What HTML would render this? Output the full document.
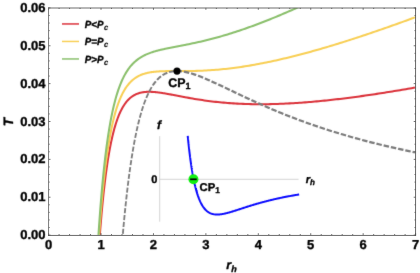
<!DOCTYPE html>
<html><head><meta charset="utf-8"><title>T vs r_h</title>
<style>
html,body{margin:0;padding:0;background:#fff;}
body{width:420px;height:273px;overflow:hidden;}
svg{display:block;opacity:0.999;will-change:transform;font-family:"Liberation Sans",sans-serif;font-weight:bold;fill:#000;}
text{text-rendering:geometricPrecision;stroke:#000;stroke-width:0.35px;stroke-linejoin:round;}
.tl{font-size:13.0px;}
.it{font-style:italic;}
</style></head><body>
<svg width="420" height="273" viewBox="0 0 420 273">
<defs><filter id="soft" x="0" y="0" width="420" height="273" filterUnits="userSpaceOnUse" color-interpolation-filters="sRGB"><feConvolveMatrix order="3" kernelMatrix="0.015 0.1 0.015 0.1 1 0.1 0.015 0.1 0.015" divisor="1.4600" edgeMode="duplicate" preserveAlpha="false"/></filter><clipPath id="pc"><rect x="48.6" y="7.9" width="367.0" height="227.2"/></clipPath><clipPath id="zA"><rect x="100" y="85" width="76.8" height="160"/></clipPath><clipPath id="zB"><rect x="100" y="58" width="76.8" height="27"/></clipPath><clipPath id="zC"><path d="M100,0H420V273H176.8V58H100Z"/></clipPath></defs>
<g filter="url(#soft)">
<rect x="0" y="0" width="420" height="273" fill="#fff"/>
<g clip-path="url(#pc)" fill="none" stroke-linejoin="round">
<path d="M95.79,300.08 L96.43,287.98 L97.07,276.62 L97.71,265.94 L98.35,255.91 L98.99,246.47 L99.63,237.60 L100.27,229.24 L100.92,221.37 L101.56,213.96 L102.20,206.98 L102.84,200.39 L103.48,194.18 L104.12,188.33 L104.76,182.80 L105.40,177.58 L106.05,172.66 L106.69,168.00 L107.33,163.61 L107.97,159.46 L108.61,155.54 L109.25,151.83 L109.89,148.33 L110.53,145.01 L111.17,141.88 L111.82,138.92 L112.46,136.12 L113.10,133.47 L113.74,130.96 L114.38,128.59 L115.02,126.35 L115.66,124.23 L116.30,122.22 L116.95,120.33 L117.59,118.53 L118.23,116.84 L118.87,115.24 L119.51,113.72 L120.15,112.29 L120.79,110.93 L121.43,109.65 L122.08,108.45 L122.72,107.30 L123.36,106.23 L124.00,105.21 L124.64,104.25 L125.28,103.35 L125.92,102.50 L126.56,101.69 L127.21,100.94 L127.85,100.23 L128.49,99.56 L129.13,98.93 L129.77,98.34 L130.41,97.79 L131.05,97.27 L131.69,96.78 L132.33,96.33 L132.98,95.91 L133.62,95.51 L134.26,95.14 L134.90,94.80 L135.54,94.48 L136.18,94.19 L136.82,93.91 L137.46,93.66 L138.11,93.43 L138.75,93.22 L139.39,93.03 L140.03,92.85 L140.67,92.69 L141.31,92.55 L141.95,92.42 L142.59,92.30 L143.24,92.20 L143.88,92.11 L144.52,92.04 L145.16,91.97 L145.80,91.92 L146.44,91.88 L147.08,91.84 L147.72,91.82 L148.37,91.81 L149.01,91.80 L149.65,91.80 L150.29,91.81 L150.93,91.83 L151.57,91.86 L152.21,91.89 L152.85,91.93 L153.49,91.97 L154.14,92.02 L154.78,92.07 L155.42,92.13 L156.06,92.20 L156.70,92.27 L157.34,92.34 L157.98,92.42 L158.62,92.50 L159.27,92.58 L159.91,92.67 L160.55,92.76 L161.19,92.85 L161.83,92.95 L162.47,93.05 L163.11,93.15 L163.75,93.25 L164.40,93.36 L165.04,93.47 L165.68,93.57 L166.32,93.69 L166.96,93.80 L167.60,93.91 L168.24,94.03 L168.88,94.14 L169.53,94.26 L170.17,94.38 L170.81,94.50 L171.45,94.62 L172.09,94.74 L172.73,94.86 L173.37,94.98 L174.01,95.10 L174.65,95.23 L175.30,95.35 L175.94,95.47 L176.58,95.59 L177.22,95.72 L177.86,95.84 L178.50,95.96 L179.14,96.08 L179.78,96.21 L180.43,96.33 L181.07,96.45 L181.71,96.57 L182.35,96.69 L182.99,96.81 L183.63,96.93 L184.27,97.05 L184.91,97.17 L186.85,97.53 L188.79,97.88 L190.73,98.23 L192.67,98.56 L194.61,98.89 L196.55,99.21 L198.48,99.52 L200.42,99.82 L202.36,100.11 L204.30,100.39 L206.24,100.66 L208.18,100.93 L210.12,101.18 L212.05,101.42 L213.99,101.65 L215.93,101.87 L217.87,102.08 L219.81,102.28 L221.75,102.46 L223.68,102.64 L225.62,102.81 L227.56,102.97 L229.50,103.12 L231.44,103.25 L233.38,103.38 L235.32,103.50 L237.25,103.61 L239.19,103.71 L241.13,103.80 L243.07,103.88 L245.01,103.95 L246.95,104.01 L248.89,104.07 L250.82,104.11 L252.76,104.15 L254.70,104.18 L256.64,104.20 L258.58,104.21 L260.52,104.21 L262.46,104.21 L264.39,104.20 L266.33,104.18 L268.27,104.15 L270.21,104.12 L272.15,104.07 L274.09,104.02 L276.03,103.97 L277.96,103.91 L279.90,103.84 L281.84,103.76 L283.78,103.68 L285.72,103.59 L287.66,103.49 L289.60,103.39 L291.53,103.28 L293.47,103.17 L295.41,103.05 L297.35,102.93 L299.29,102.79 L301.23,102.66 L303.16,102.52 L305.10,102.37 L307.04,102.22 L308.98,102.06 L310.92,101.90 L312.86,101.73 L314.80,101.56 L316.73,101.38 L318.67,101.20 L320.61,101.01 L322.55,100.82 L324.49,100.62 L326.43,100.42 L328.37,100.22 L330.30,100.01 L332.24,99.79 L334.18,99.58 L336.12,99.35 L338.06,99.13 L340.00,98.90 L341.94,98.67 L343.87,98.43 L345.81,98.19 L347.75,97.94 L349.69,97.69 L351.63,97.44 L353.57,97.19 L355.51,96.93 L357.44,96.67 L359.38,96.40 L361.32,96.13 L363.26,95.86 L365.20,95.59 L367.14,95.31 L369.08,95.03 L371.01,94.74 L372.95,94.45 L374.89,94.16 L376.83,93.87 L378.77,93.57 L380.71,93.28 L382.64,92.97 L384.58,92.67 L386.52,92.36 L388.46,92.05 L390.40,91.74 L392.34,91.43 L394.28,91.11 L396.21,90.79 L398.15,90.47 L400.09,90.14 L402.03,89.82 L403.97,89.49 L405.91,89.16 L407.85,88.82 L409.78,88.49 L411.72,88.15 L413.66,87.81 L415.60,87.46" stroke="#db333b" stroke-width="2.05"/>
<path d="M95.79,291.04 L96.43,278.82 L97.07,267.33 L97.71,256.53 L98.35,246.38 L98.99,236.82 L99.63,227.82 L100.27,219.34 L100.92,211.35 L101.56,203.82 L102.20,196.71 L102.84,190.00 L103.48,183.67 L104.12,177.69 L104.76,172.04 L105.40,166.70 L106.05,161.65 L106.69,156.88 L107.33,152.36 L107.97,148.09 L108.61,144.04 L109.25,140.21 L109.89,136.58 L110.53,133.15 L111.17,129.89 L111.82,126.81 L112.46,123.88 L113.10,121.11 L113.74,118.48 L114.38,115.99 L115.02,113.63 L115.66,111.38 L116.30,109.25 L116.95,107.23 L117.59,105.32 L118.23,103.50 L118.87,101.77 L119.51,100.13 L120.15,98.58 L120.79,97.10 L121.43,95.70 L122.08,94.37 L122.72,93.10 L123.36,91.90 L124.00,90.77 L124.64,89.68 L125.28,88.66 L125.92,87.68 L126.56,86.76 L127.21,85.88 L127.85,85.04 L128.49,84.25 L129.13,83.50 L129.77,82.79 L130.41,82.11 L131.05,81.47 L131.69,80.86 L132.33,80.29 L132.98,79.74 L133.62,79.22 L134.26,78.73 L134.90,78.27 L135.54,77.83 L136.18,77.41 L136.82,77.01 L137.46,76.64 L138.11,76.28 L138.75,75.95 L139.39,75.63 L140.03,75.33 L140.67,75.05 L141.31,74.78 L141.95,74.53 L142.59,74.29 L143.24,74.07 L143.88,73.86 L144.52,73.66 L145.16,73.47 L145.80,73.30 L146.44,73.13 L147.08,72.98 L147.72,72.83 L148.37,72.69 L149.01,72.57 L149.65,72.44 L150.29,72.33 L150.93,72.23 L151.57,72.13 L152.21,72.04 L152.85,71.95 L153.49,71.87 L154.14,71.80 L154.78,71.73 L155.42,71.67 L156.06,71.61 L156.70,71.56 L157.34,71.51 L157.98,71.46 L158.62,71.42 L159.27,71.38 L159.91,71.34 L160.55,71.31 L161.19,71.28 L161.83,71.26 L162.47,71.23 L163.11,71.21 L163.75,71.19 L164.40,71.17 L165.04,71.16 L165.68,71.14 L166.32,71.13 L166.96,71.12 L167.60,71.11 L168.24,71.11 L168.88,71.10 L169.53,71.09 L170.17,71.09 L170.81,71.09 L171.45,71.08 L172.09,71.08 L172.73,71.08 L173.37,71.08 L174.01,71.08 L174.65,71.08 L175.30,71.08 L175.94,71.07 L176.58,71.07 L177.22,71.07 L177.86,71.07 L178.50,71.07 L179.14,71.07 L179.78,71.07 L180.43,71.07 L181.07,71.07 L181.71,71.07 L182.35,71.07 L182.99,71.07 L183.63,71.06 L184.27,71.06 L184.91,71.06 L186.85,71.04 L188.79,71.02 L190.73,71.00 L192.67,70.96 L194.61,70.92 L196.55,70.86 L198.48,70.80 L200.42,70.73 L202.36,70.65 L204.30,70.56 L206.24,70.46 L208.18,70.35 L210.12,70.23 L212.05,70.10 L213.99,69.96 L215.93,69.81 L217.87,69.65 L219.81,69.48 L221.75,69.29 L223.68,69.10 L225.62,68.90 L227.56,68.68 L229.50,68.46 L231.44,68.23 L233.38,67.98 L235.32,67.73 L237.25,67.47 L239.19,67.19 L241.13,66.91 L243.07,66.62 L245.01,66.32 L246.95,66.01 L248.89,65.70 L250.82,65.37 L252.76,65.04 L254.70,64.69 L256.64,64.34 L258.58,63.98 L260.52,63.61 L262.46,63.24 L264.39,62.85 L266.33,62.46 L268.27,62.06 L270.21,61.66 L272.15,61.25 L274.09,60.83 L276.03,60.40 L277.96,59.96 L279.90,59.52 L281.84,59.08 L283.78,58.62 L285.72,58.16 L287.66,57.69 L289.60,57.22 L291.53,56.74 L293.47,56.26 L295.41,55.77 L297.35,55.27 L299.29,54.77 L301.23,54.26 L303.16,53.75 L305.10,53.23 L307.04,52.70 L308.98,52.17 L310.92,51.64 L312.86,51.10 L314.80,50.56 L316.73,50.01 L318.67,49.45 L320.61,48.90 L322.55,48.33 L324.49,47.76 L326.43,47.19 L328.37,46.62 L330.30,46.04 L332.24,45.45 L334.18,44.86 L336.12,44.27 L338.06,43.67 L340.00,43.07 L341.94,42.47 L343.87,41.86 L345.81,41.25 L347.75,40.63 L349.69,40.01 L351.63,39.39 L353.57,38.76 L355.51,38.13 L357.44,37.50 L359.38,36.86 L361.32,36.22 L363.26,35.58 L365.20,34.93 L367.14,34.28 L369.08,33.63 L371.01,32.97 L372.95,32.31 L374.89,31.65 L376.83,30.99 L378.77,30.32 L380.71,29.65 L382.64,28.98 L384.58,28.30 L386.52,27.62 L388.46,26.94 L390.40,26.26 L392.34,25.57 L394.28,24.88 L396.21,24.19 L398.15,23.50 L400.09,22.80 L402.03,22.10 L403.97,21.40 L405.91,20.70 L407.85,20.00 L409.78,19.29 L411.72,18.58 L413.66,17.87 L415.60,17.15" stroke="#f8cf55" stroke-width="2.05"/>
<path d="M95.79,282.00 L96.43,269.65 L97.07,258.05 L97.71,247.13 L98.35,236.85 L98.99,227.17 L99.63,218.04 L100.27,209.44 L100.92,201.33 L101.56,193.67 L102.20,186.44 L102.84,179.61 L103.48,173.15 L104.12,167.05 L104.76,161.28 L105.40,155.82 L106.05,150.64 L106.69,145.75 L107.33,141.11 L107.97,136.71 L108.61,132.54 L109.25,128.59 L109.89,124.84 L110.53,121.28 L111.17,117.90 L111.82,114.70 L112.46,111.65 L113.10,108.75 L113.74,106.00 L114.38,103.39 L115.02,100.90 L115.66,98.53 L116.30,96.28 L116.95,94.14 L117.59,92.10 L118.23,90.16 L118.87,88.31 L119.51,86.55 L120.15,84.87 L120.79,83.27 L121.43,81.75 L122.08,80.29 L122.72,78.91 L123.36,77.58 L124.00,76.32 L124.64,75.12 L125.28,73.97 L125.92,72.87 L126.56,71.82 L127.21,70.82 L127.85,69.86 L128.49,68.95 L129.13,68.07 L129.77,67.24 L130.41,66.44 L131.05,65.68 L131.69,64.95 L132.33,64.25 L132.98,63.58 L133.62,62.93 L134.26,62.32 L134.90,61.73 L135.54,61.17 L136.18,60.63 L136.82,60.11 L137.46,59.61 L138.11,59.14 L138.75,58.68 L139.39,58.24 L140.03,57.82 L140.67,57.41 L141.31,57.02 L141.95,56.65 L142.59,56.29 L143.24,55.94 L143.88,55.61 L144.52,55.28 L145.16,54.97 L145.80,54.68 L146.44,54.39 L147.08,54.11 L147.72,53.84 L148.37,53.58 L149.01,53.33 L149.65,53.09 L150.29,52.85 L150.93,52.62 L151.57,52.40 L152.21,52.19 L152.85,51.98 L153.49,51.78 L154.14,51.58 L154.78,51.39 L155.42,51.20 L156.06,51.02 L156.70,50.84 L157.34,50.67 L157.98,50.50 L158.62,50.34 L159.27,50.18 L159.91,50.02 L160.55,49.86 L161.19,49.71 L161.83,49.56 L162.47,49.42 L163.11,49.27 L163.75,49.13 L164.40,48.99 L165.04,48.85 L165.68,48.71 L166.32,48.58 L166.96,48.45 L167.60,48.31 L168.24,48.18 L168.88,48.05 L169.53,47.93 L170.17,47.80 L170.81,47.67 L171.45,47.55 L172.09,47.42 L172.73,47.30 L173.37,47.17 L174.01,47.05 L174.65,46.93 L175.30,46.80 L175.94,46.68 L176.58,46.56 L177.22,46.43 L177.86,46.31 L178.50,46.19 L179.14,46.06 L179.78,45.94 L180.43,45.82 L181.07,45.69 L181.71,45.57 L182.35,45.45 L182.99,45.32 L183.63,45.20 L184.27,45.07 L184.91,44.94 L186.85,44.56 L188.79,44.16 L190.73,43.77 L192.67,43.36 L194.61,42.94 L196.55,42.52 L198.48,42.09 L200.42,41.65 L202.36,41.20 L204.30,40.73 L206.24,40.26 L208.18,39.78 L210.12,39.29 L212.05,38.79 L213.99,38.27 L215.93,37.75 L217.87,37.22 L219.81,36.67 L221.75,36.12 L223.68,35.56 L225.62,34.98 L227.56,34.40 L229.50,33.80 L231.44,33.20 L233.38,32.58 L235.32,31.96 L237.25,31.32 L239.19,30.68 L241.13,30.03 L243.07,29.37 L245.01,28.69 L246.95,28.01 L248.89,27.33 L250.82,26.63 L252.76,25.92 L254.70,25.21 L256.64,24.48 L258.58,23.75 L260.52,23.01 L262.46,22.27 L264.39,21.51 L266.33,20.75 L268.27,19.98 L270.21,19.20 L272.15,18.42 L274.09,17.63 L276.03,16.83 L277.96,16.02 L279.90,15.21 L281.84,14.39 L283.78,13.56 L285.72,12.73 L287.66,11.89 L289.60,11.05 L291.53,10.20 L293.47,9.34 L295.41,8.48 L297.35,7.61 L299.29,6.74 L301.23,5.86 L303.16,4.98 L305.10,4.09 L307.04,3.19 L308.98,2.29 L310.92,1.38 L312.86,0.47 L314.80,-0.44 L316.73,-1.36 L318.67,-2.29 L320.61,-3.22 L322.55,-4.15 L324.49,-5.09 L326.43,-6.03 L328.37,-6.98 L330.30,-7.93 L332.24,-8.89 L334.18,-9.85 L336.12,-10.81 L338.06,-11.78 L340.00,-12.76 L341.94,-13.73 L343.87,-14.71 L345.81,-15.70 L347.75,-16.68 L349.69,-17.67 L351.63,-18.67 L353.57,-19.67 L355.51,-20.67 L357.44,-21.67 L359.38,-22.68 L361.32,-23.69 L363.26,-24.71 L365.20,-25.72 L367.14,-26.75 L369.08,-27.77 L371.01,-28.80 L372.95,-29.83 L374.89,-30.86 L376.83,-31.90 L378.77,-32.93 L380.71,-33.98 L382.64,-35.02 L384.58,-36.07 L386.52,-37.12 L388.46,-38.17 L390.40,-39.22 L392.34,-40.28 L394.28,-41.34 L396.21,-42.40 L398.15,-43.47 L400.09,-44.54 L402.03,-45.61 L403.97,-46.68 L405.91,-47.75 L407.85,-48.83 L409.78,-49.91 L411.72,-50.99 L413.66,-52.07 L415.60,-53.16" stroke="#8bc06d" stroke-width="2.05"/>
<g stroke="#7c7c7c" stroke-dasharray="5.1 1.8" stroke-dashoffset="-1.25">
<g clip-path="url(#zA)"><path d="M113.91,235.10 L114.56,227.26 L115.20,219.77 L115.85,212.63 L116.50,205.81 L117.15,199.31 L117.80,193.09 L118.45,187.16 L119.09,181.50 L119.74,176.09 L120.39,170.92 L121.04,165.99 L121.69,161.27 L122.33,156.77 L122.98,152.47 L123.63,148.36 L124.28,144.43 L124.93,140.68 L125.58,137.10 L126.22,133.68 L126.87,130.41 L127.52,127.28 L128.17,124.30 L128.82,121.45 L129.47,118.73 L130.11,116.13 L130.76,113.65 L131.41,111.28 L132.06,109.02 L132.71,106.87 L133.35,104.81 L134.00,102.85 L134.65,100.97 L135.30,99.19 L135.95,97.49 L136.60,95.87 L137.24,94.32 L137.89,92.85 L138.54,91.46 L139.19,90.12 L139.84,88.86 L140.49,87.66 L141.13,86.51 L141.78,85.43 L142.43,84.40 L143.08,83.42 L143.73,82.50 L144.37,81.63 L145.02,80.80 L145.67,80.02 L146.32,79.28 L146.97,78.58 L147.62,77.93 L148.26,77.31 L148.91,76.73 L149.56,76.19 L150.21,75.68 L150.86,75.20 L151.51,74.76 L152.15,74.35 L152.80,73.97 L153.45,73.61 L154.10,73.29 L154.75,72.99 L155.39,72.71 L156.04,72.46 L156.69,72.24 L157.34,72.03 L157.99,71.85 L158.64,71.69 L159.28,71.55 L159.93,71.43 L160.58,71.33 L161.23,71.25 L161.88,71.18 L162.53,71.13 L163.17,71.10 L163.82,71.08 L164.47,71.08 L165.12,71.09 L165.77,71.11 L166.41,71.15 L167.06,71.20 L167.71,71.27 L168.36,71.34 L169.01,71.43 L169.66,71.53 L170.30,71.64 L170.95,71.75 L171.60,71.88 L174.70,72.62 L177.81,73.54 L180.91,74.61 L184.01,75.80 L187.11,77.10 L190.22,78.47 L193.32,79.90 L196.42,81.39 L199.52,82.92 L202.63,84.47 L205.73,86.05 L208.83,87.64 L211.93,89.24 L215.04,90.84 L218.14,92.44 L221.24,94.03 L224.34,95.62 L227.45,97.19 L230.55,98.75 L233.65,100.30 L236.75,101.83 L239.86,103.33 L242.96,104.83 L246.06,106.30 L249.16,107.75 L252.27,109.17 L255.37,110.58 L258.47,111.97 L261.57,113.33 L264.68,114.67 L267.78,115.99 L270.88,117.29 L273.98,118.57 L277.09,119.82 L280.19,121.06 L283.29,122.27 L286.40,123.46 L289.50,124.63 L292.60,125.78 L295.70,126.91 L298.81,128.03 L301.91,129.12 L305.01,130.19 L308.11,131.24 L311.22,132.28 L314.32,133.30 L317.42,134.30 L320.52,135.28 L323.63,136.25 L326.73,137.20 L329.83,138.13 L332.93,139.05 L336.04,139.95 L339.14,140.84 L342.24,141.71 L345.34,142.57 L348.45,143.41 L351.55,144.24 L354.65,145.06 L357.75,145.86 L360.86,146.65 L363.96,147.42 L367.06,148.19 L370.16,148.94 L373.27,149.68 L376.37,150.40 L379.47,151.12 L382.57,151.83 L385.68,152.52" transform="scale(1.07759,1)" stroke-width="1.7"/></g>
<g clip-path="url(#zB)"><path d="M113.91,235.10 L114.56,227.26 L115.20,219.77 L115.85,212.63 L116.50,205.81 L117.15,199.31 L117.80,193.09 L118.45,187.16 L119.09,181.50 L119.74,176.09 L120.39,170.92 L121.04,165.99 L121.69,161.27 L122.33,156.77 L122.98,152.47 L123.63,148.36 L124.28,144.43 L124.93,140.68 L125.58,137.10 L126.22,133.68 L126.87,130.41 L127.52,127.28 L128.17,124.30 L128.82,121.45 L129.47,118.73 L130.11,116.13 L130.76,113.65 L131.41,111.28 L132.06,109.02 L132.71,106.87 L133.35,104.81 L134.00,102.85 L134.65,100.97 L135.30,99.19 L135.95,97.49 L136.60,95.87 L137.24,94.32 L137.89,92.85 L138.54,91.46 L139.19,90.12 L139.84,88.86 L140.49,87.66 L141.13,86.51 L141.78,85.43 L142.43,84.40 L143.08,83.42 L143.73,82.50 L144.37,81.63 L145.02,80.80 L145.67,80.02 L146.32,79.28 L146.97,78.58 L147.62,77.93 L148.26,77.31 L148.91,76.73 L149.56,76.19 L150.21,75.68 L150.86,75.20 L151.51,74.76 L152.15,74.35 L152.80,73.97 L153.45,73.61 L154.10,73.29 L154.75,72.99 L155.39,72.71 L156.04,72.46 L156.69,72.24 L157.34,72.03 L157.99,71.85 L158.64,71.69 L159.28,71.55 L159.93,71.43 L160.58,71.33 L161.23,71.25 L161.88,71.18 L162.53,71.13 L163.17,71.10 L163.82,71.08 L164.47,71.08 L165.12,71.09 L165.77,71.11 L166.41,71.15 L167.06,71.20 L167.71,71.27 L168.36,71.34 L169.01,71.43 L169.66,71.53 L170.30,71.64 L170.95,71.75 L171.60,71.88 L174.70,72.62 L177.81,73.54 L180.91,74.61 L184.01,75.80 L187.11,77.10 L190.22,78.47 L193.32,79.90 L196.42,81.39 L199.52,82.92 L202.63,84.47 L205.73,86.05 L208.83,87.64 L211.93,89.24 L215.04,90.84 L218.14,92.44 L221.24,94.03 L224.34,95.62 L227.45,97.19 L230.55,98.75 L233.65,100.30 L236.75,101.83 L239.86,103.33 L242.96,104.83 L246.06,106.30 L249.16,107.75 L252.27,109.17 L255.37,110.58 L258.47,111.97 L261.57,113.33 L264.68,114.67 L267.78,115.99 L270.88,117.29 L273.98,118.57 L277.09,119.82 L280.19,121.06 L283.29,122.27 L286.40,123.46 L289.50,124.63 L292.60,125.78 L295.70,126.91 L298.81,128.03 L301.91,129.12 L305.01,130.19 L308.11,131.24 L311.22,132.28 L314.32,133.30 L317.42,134.30 L320.52,135.28 L323.63,136.25 L326.73,137.20 L329.83,138.13 L332.93,139.05 L336.04,139.95 L339.14,140.84 L342.24,141.71 L345.34,142.57 L348.45,143.41 L351.55,144.24 L354.65,145.06 L357.75,145.86 L360.86,146.65 L363.96,147.42 L367.06,148.19 L370.16,148.94 L373.27,149.68 L376.37,150.40 L379.47,151.12 L382.57,151.83 L385.68,152.52" transform="scale(1.07759,1)" stroke-width="1.95"/></g>
<g clip-path="url(#zC)"><path d="M113.91,235.10 L114.56,227.26 L115.20,219.77 L115.85,212.63 L116.50,205.81 L117.15,199.31 L117.80,193.09 L118.45,187.16 L119.09,181.50 L119.74,176.09 L120.39,170.92 L121.04,165.99 L121.69,161.27 L122.33,156.77 L122.98,152.47 L123.63,148.36 L124.28,144.43 L124.93,140.68 L125.58,137.10 L126.22,133.68 L126.87,130.41 L127.52,127.28 L128.17,124.30 L128.82,121.45 L129.47,118.73 L130.11,116.13 L130.76,113.65 L131.41,111.28 L132.06,109.02 L132.71,106.87 L133.35,104.81 L134.00,102.85 L134.65,100.97 L135.30,99.19 L135.95,97.49 L136.60,95.87 L137.24,94.32 L137.89,92.85 L138.54,91.46 L139.19,90.12 L139.84,88.86 L140.49,87.66 L141.13,86.51 L141.78,85.43 L142.43,84.40 L143.08,83.42 L143.73,82.50 L144.37,81.63 L145.02,80.80 L145.67,80.02 L146.32,79.28 L146.97,78.58 L147.62,77.93 L148.26,77.31 L148.91,76.73 L149.56,76.19 L150.21,75.68 L150.86,75.20 L151.51,74.76 L152.15,74.35 L152.80,73.97 L153.45,73.61 L154.10,73.29 L154.75,72.99 L155.39,72.71 L156.04,72.46 L156.69,72.24 L157.34,72.03 L157.99,71.85 L158.64,71.69 L159.28,71.55 L159.93,71.43 L160.58,71.33 L161.23,71.25 L161.88,71.18 L162.53,71.13 L163.17,71.10 L163.82,71.08 L164.47,71.08 L165.12,71.09 L165.77,71.11 L166.41,71.15 L167.06,71.20 L167.71,71.27 L168.36,71.34 L169.01,71.43 L169.66,71.53 L170.30,71.64 L170.95,71.75 L171.60,71.88 L174.70,72.62 L177.81,73.54 L180.91,74.61 L184.01,75.80 L187.11,77.10 L190.22,78.47 L193.32,79.90 L196.42,81.39 L199.52,82.92 L202.63,84.47 L205.73,86.05 L208.83,87.64 L211.93,89.24 L215.04,90.84 L218.14,92.44 L221.24,94.03 L224.34,95.62 L227.45,97.19 L230.55,98.75 L233.65,100.30 L236.75,101.83 L239.86,103.33 L242.96,104.83 L246.06,106.30 L249.16,107.75 L252.27,109.17 L255.37,110.58 L258.47,111.97 L261.57,113.33 L264.68,114.67 L267.78,115.99 L270.88,117.29 L273.98,118.57 L277.09,119.82 L280.19,121.06 L283.29,122.27 L286.40,123.46 L289.50,124.63 L292.60,125.78 L295.70,126.91 L298.81,128.03 L301.91,129.12 L305.01,130.19 L308.11,131.24 L311.22,132.28 L314.32,133.30 L317.42,134.30 L320.52,135.28 L323.63,136.25 L326.73,137.20 L329.83,138.13 L332.93,139.05 L336.04,139.95 L339.14,140.84 L342.24,141.71 L345.34,142.57 L348.45,143.41 L351.55,144.24 L354.65,145.06 L357.75,145.86 L360.86,146.65 L363.96,147.42 L367.06,148.19 L370.16,148.94 L373.27,149.68 L376.37,150.40 L379.47,151.12 L382.57,151.83 L385.68,152.52" transform="scale(1.07759,1)" stroke-width="2.2"/></g>
</g>
</g>
<g fill="none" stroke="#cacaca" stroke-width="0.8">
<path d="M159.7,136.1V221.7" stroke="#d6d6d6" stroke-width="1"/><path d="M159.5,179.3L298.6,179.3"/>
</g>
<path d="M187.73,135.98 L187.77,136.34 L187.80,136.70 L187.84,137.05 L187.87,137.41 L187.90,137.76 L187.94,138.11 L187.97,138.46 L188.01,138.81 L188.04,139.16 L188.08,139.50 L188.11,139.84 L188.15,140.19 L188.18,140.53 L188.22,140.87 L188.25,141.20 L188.29,141.54 L188.32,141.88 L188.36,142.21 L188.39,142.54 L188.43,142.87 L188.46,143.20 L188.50,143.53 L188.53,143.85 L188.57,144.18 L188.60,144.50 L188.64,144.82 L188.67,145.15 L188.71,145.46 L188.74,145.78 L188.78,146.10 L188.81,146.41 L188.85,146.73 L188.88,147.04 L188.92,147.35 L188.95,147.66 L188.99,147.97 L189.02,148.28 L189.06,148.58 L189.09,148.89 L189.13,149.19 L189.16,149.49 L189.19,149.79 L189.23,150.09 L189.26,150.39 L189.30,150.69 L189.33,150.98 L189.37,151.28 L189.40,151.57 L189.44,151.86 L189.47,152.15 L189.51,152.44 L189.54,152.73 L189.58,153.01 L189.61,153.30 L189.65,153.58 L189.68,153.87 L189.72,154.15 L189.75,154.43 L189.79,154.71 L189.82,154.99 L189.86,155.26 L189.89,155.54 L189.93,155.81 L189.96,156.09 L190.00,156.36 L190.03,156.63 L190.07,156.90 L190.10,157.17 L190.14,157.44 L190.17,157.70 L190.21,157.97 L190.24,158.23 L190.28,158.50 L190.31,158.76 L190.35,159.02 L190.38,159.28 L190.41,159.54 L190.45,159.79 L190.48,160.05 L190.52,160.30 L190.55,160.56 L190.59,160.81 L190.62,161.06 L190.66,161.31 L190.69,161.56 L190.73,161.81 L190.76,162.06 L190.80,162.31 L190.83,162.55 L190.87,162.80 L190.90,163.04 L190.94,163.28 L190.97,163.52 L191.01,163.76 L191.04,164.00 L191.08,164.24 L191.11,164.48 L191.15,164.72 L191.18,164.95 L191.22,165.19 L191.25,165.42 L191.29,165.65 L191.32,165.88 L191.36,166.11 L191.39,166.34 L191.43,166.57 L191.46,166.80 L191.50,167.02 L191.53,167.25 L191.57,167.47 L191.60,167.70 L191.64,167.92 L191.67,168.14 L191.70,168.36 L191.74,168.58 L191.77,168.80 L191.81,169.02 L191.84,169.23 L191.88,169.45 L191.91,169.66 L191.95,169.88 L191.98,170.09 L192.02,170.30 L192.05,170.51 L192.09,170.72 L192.12,170.93 L192.16,171.14 L192.19,171.35 L192.23,171.56 L192.26,171.76 L192.30,171.97 L192.33,172.17 L192.37,172.38 L192.40,172.58 L192.44,172.78 L192.47,172.98 L192.51,173.18 L192.54,173.38 L192.58,173.58 L192.61,173.77 L192.65,173.97 L192.68,174.17 L192.72,174.36 L192.75,174.56 L192.79,174.75 L192.82,174.94 L192.86,175.13 L192.89,175.32 L192.93,175.51 L192.96,175.70 L192.99,175.89 L193.03,176.08 L193.06,176.26 L193.10,176.45 L193.13,176.63 L193.17,176.82 L193.20,177.00 L193.24,177.18 L193.27,177.37 L193.31,177.55 L193.34,177.73 L193.38,177.91 L193.41,178.09 L193.45,178.26 L193.48,178.44 L193.52,178.62 L193.55,178.79 L193.59,178.97 L193.62,179.14 L193.66,179.32 L193.69,179.49 L193.73,179.66 L193.76,179.83 L193.80,180.00 L193.83,180.17 L193.87,180.34 L193.90,180.51 L193.94,180.68 L193.97,180.84 L194.01,181.01 L194.04,181.17 L194.08,181.34 L194.11,181.50 L194.15,181.67 L194.18,181.83 L194.21,181.99 L194.25,182.15 L194.28,182.31 L194.32,182.47 L194.35,182.63 L194.39,182.79 L194.42,182.95 L194.46,183.11 L194.49,183.26 L194.53,183.42 L194.56,183.57 L194.60,183.73 L194.63,183.88 L194.67,184.03 L194.70,184.19 L194.74,184.34 L194.77,184.49 L194.81,184.64 L194.84,184.79 L194.88,184.94 L194.91,185.09 L194.95,185.23 L194.98,185.38 L195.02,185.53 L195.05,185.67 L195.09,185.82 L195.12,185.96 L195.16,186.11 L195.19,186.25 L195.23,186.40 L195.26,186.54 L195.30,186.68 L195.33,186.82 L195.37,186.96 L195.40,187.10 L195.44,187.24 L195.47,187.38 L195.50,187.52 L195.54,187.65 L195.57,187.79 L195.61,187.93 L195.64,188.06 L195.68,188.20 L195.71,188.33 L195.75,188.47 L195.78,188.60 L195.82,188.73 L195.85,188.86 L195.89,189.00 L195.92,189.13 L195.96,189.26 L195.99,189.39 L196.03,189.52 L196.06,189.64 L196.10,189.77 L196.13,189.90 L196.17,190.03 L196.20,190.15 L196.24,190.28 L196.27,190.41 L196.31,190.53 L196.34,190.65 L196.38,190.78 L196.41,190.90 L196.45,191.02 L196.48,191.15 L196.52,191.27 L196.55,191.39 L196.59,191.51 L196.62,191.63 L196.66,191.75 L196.69,191.87 L196.72,191.99 L196.76,192.11 L196.79,192.22 L196.83,192.34 L196.86,192.46 L196.90,192.57 L196.93,192.69 L196.97,192.80 L197.00,192.92 L197.04,193.03 L197.07,193.14 L197.11,193.26 L197.14,193.37 L197.78,195.35 L198.43,197.18 L199.07,198.87 L199.71,200.42 L200.35,201.85 L200.99,203.16 L201.63,204.37 L202.28,205.47 L202.92,206.48 L203.56,207.41 L204.20,208.26 L204.84,209.03 L205.48,209.73 L206.13,210.36 L206.77,210.94 L207.41,211.46 L208.05,211.93 L208.69,212.34 L209.33,212.71 L209.97,213.04 L210.62,213.33 L211.26,213.59 L211.90,213.80 L212.54,213.99 L213.18,214.14 L213.82,214.27 L214.47,214.37 L215.11,214.45 L215.75,214.50 L216.39,214.54 L217.03,214.55 L217.67,214.54 L218.31,214.52 L218.96,214.49 L219.60,214.43 L220.24,214.37 L220.88,214.29 L221.52,214.20 L222.16,214.10 L222.81,213.98 L223.45,213.86 L224.09,213.73 L224.73,213.60 L225.37,213.45 L226.01,213.30 L226.65,213.14 L227.30,212.98 L227.94,212.81 L228.58,212.63 L229.22,212.45 L229.86,212.27 L230.50,212.09 L231.15,211.90 L231.79,211.70 L232.43,211.51 L233.07,211.31 L233.71,211.11 L234.35,210.91 L234.99,210.71 L235.64,210.50 L236.28,210.30 L236.92,210.09 L237.56,209.88 L238.20,209.67 L238.84,209.46 L239.49,209.26 L240.13,209.05 L240.77,208.84 L241.41,208.63 L242.05,208.42 L242.69,208.21 L243.34,208.00 L243.98,207.79 L244.62,207.59 L245.26,207.38 L245.90,207.17 L246.54,206.97 L247.18,206.76 L247.83,206.56 L248.47,206.36 L249.11,206.15 L249.75,205.95 L250.39,205.75 L251.03,205.55 L251.68,205.36 L252.32,205.16 L252.96,204.97 L253.60,204.77 L254.24,204.58 L254.88,204.39 L255.52,204.20 L256.17,204.01 L256.81,203.82 L257.45,203.64 L258.09,203.45 L258.73,203.27 L259.37,203.09 L260.02,202.91 L260.66,202.73 L261.30,202.55 L261.94,202.37 L262.58,202.20 L263.22,202.03 L263.86,201.86 L264.51,201.69 L265.15,201.52 L265.79,201.35 L266.43,201.18 L267.07,201.02 L267.71,200.86 L268.36,200.69 L269.00,200.53 L269.64,200.37 L270.28,200.22 L270.92,200.06 L271.56,199.91 L272.20,199.75 L272.85,199.60 L273.49,199.45 L274.13,199.30 L274.77,199.15 L275.41,199.01 L276.05,198.86 L276.70,198.72 L277.34,198.58 L277.98,198.44 L278.62,198.30 L279.26,198.16 L279.90,198.02 L280.55,197.89 L281.19,197.75 L281.83,197.62 L282.47,197.49 L283.11,197.35 L283.75,197.22 L284.39,197.10 L285.04,196.97 L285.68,196.84 L286.32,196.72 L286.96,196.59 L287.60,196.47 L288.24,196.35 L288.89,196.23 L289.53,196.11 L290.17,195.99 L290.81,195.88 L291.45,195.76 L292.09,195.65 L292.73,195.53 L293.38,195.42 L294.02,195.31 L294.66,195.20 L295.30,195.09 L295.94,194.98 L296.58,194.87 L297.23,194.76 L297.87,194.66 L298.51,194.55 L299.15,194.45" fill="none" stroke="#0a0aff" stroke-width="2.0" stroke-linejoin="round"/>
<circle cx="193.45" cy="179.30" r="5.0" fill="#12f012"/>
<rect x="190.15" y="178.45" width="6.6" height="1.7" fill="#000"/>
<circle cx="177.02" cy="71.07" r="3.6" fill="#000"/>
<g class="tl"><text x="48.60" y="249.3" text-anchor="middle">0</text><text x="101.03" y="249.3" text-anchor="middle">1</text><text x="153.46" y="249.3" text-anchor="middle">2</text><text x="205.89" y="249.3" text-anchor="middle">3</text><text x="258.31" y="249.3" text-anchor="middle">4</text><text x="310.74" y="249.3" text-anchor="middle">5</text><text x="363.17" y="249.3" text-anchor="middle">6</text><text x="415.60" y="249.3" text-anchor="middle">7</text><text x="45.6" y="239.10" text-anchor="end">0.00</text><text x="45.6" y="201.23" text-anchor="end">0.01</text><text x="45.6" y="163.37" text-anchor="end">0.02</text><text x="45.6" y="125.50" text-anchor="end">0.03</text><text x="45.6" y="87.63" text-anchor="end">0.04</text><text x="45.6" y="49.77" text-anchor="end">0.05</text><text x="45.6" y="11.90" text-anchor="end">0.06</text></g>
<g font-size="10.4px" class="it">
<path d="M62,23.95H79" stroke="#db333b" stroke-width="1.5"/>
<path d="M62,41.45H79" stroke="#f8cf55" stroke-width="1.5"/>
<path d="M62,58.95H79" stroke="#8bc06d" stroke-width="1.5"/>
<text transform="translate(84.7,27.70) scale(0.94,1)">P&lt;P<tspan font-size="8.0px" dx="0.6" dy="2.1" stroke-width="0.15">c</tspan></text>
<text transform="translate(84.7,45.20) scale(0.94,1)">P=P<tspan font-size="8.0px" dx="0.6" dy="2.1" stroke-width="0.15">c</tspan></text>
<text transform="translate(84.7,62.70) scale(0.94,1)">P&gt;P<tspan font-size="8.0px" dx="0.6" dy="2.1" stroke-width="0.15">c</tspan></text>
</g>
<text class="it" font-size="13.6px" transform="translate(12.7,122.0) rotate(-90)" text-anchor="middle">T</text>
<text class="it" font-size="12.5px" x="226.3" y="268.5">r<tspan font-size="9.0px" dy="3.4">h</tspan></text>
<text font-size="12.4px" x="168.2" y="86.6">CP<tspan font-size="9.0px" dy="2.2">1</tspan></text>
<text font-size="11.3px" x="199.6" y="190.6">CP<tspan font-size="8.3px" dy="2">1</tspan></text>
<text class="it" font-size="12.0px" x="157.0" y="129.0">f</text>
<text font-size="11.0px" x="157.4" y="183.1" text-anchor="end">0</text>
<text class="it" font-size="11.2px" x="305.7" y="182.8">r<tspan font-size="8.0px" dy="2">h</tspan></text>
</g>
<path d="M48.60,235.10L48.60,233.20M48.60,7.90L48.60,9.80M59.09,235.10L59.09,234.00M59.09,7.90L59.09,9.00M69.57,235.10L69.57,234.00M69.57,7.90L69.57,9.00M80.06,235.10L80.06,234.00M80.06,7.90L80.06,9.00M90.54,235.10L90.54,234.00M90.54,7.90L90.54,9.00M101.03,235.10L101.03,233.20M101.03,7.90L101.03,9.80M111.51,235.10L111.51,234.00M111.51,7.90L111.51,9.00M122.00,235.10L122.00,234.00M122.00,7.90L122.00,9.00M132.49,235.10L132.49,234.00M132.49,7.90L132.49,9.00M142.97,235.10L142.97,234.00M142.97,7.90L142.97,9.00M153.46,235.10L153.46,233.20M153.46,7.90L153.46,9.80M163.94,235.10L163.94,234.00M163.94,7.90L163.94,9.00M174.43,235.10L174.43,234.00M174.43,7.90L174.43,9.00M184.91,235.10L184.91,234.00M184.91,7.90L184.91,9.00M195.40,235.10L195.40,234.00M195.40,7.90L195.40,9.00M205.89,235.10L205.89,233.20M205.89,7.90L205.89,9.80M216.37,235.10L216.37,234.00M216.37,7.90L216.37,9.00M226.86,235.10L226.86,234.00M226.86,7.90L226.86,9.00M237.34,235.10L237.34,234.00M237.34,7.90L237.34,9.00M247.83,235.10L247.83,234.00M247.83,7.90L247.83,9.00M258.31,235.10L258.31,233.20M258.31,7.90L258.31,9.80M268.80,235.10L268.80,234.00M268.80,7.90L268.80,9.00M279.29,235.10L279.29,234.00M279.29,7.90L279.29,9.00M289.77,235.10L289.77,234.00M289.77,7.90L289.77,9.00M300.26,235.10L300.26,234.00M300.26,7.90L300.26,9.00M310.74,235.10L310.74,233.20M310.74,7.90L310.74,9.80M321.23,235.10L321.23,234.00M321.23,7.90L321.23,9.00M331.71,235.10L331.71,234.00M331.71,7.90L331.71,9.00M342.20,235.10L342.20,234.00M342.20,7.90L342.20,9.00M352.69,235.10L352.69,234.00M352.69,7.90L352.69,9.00M363.17,235.10L363.17,233.20M363.17,7.90L363.17,9.80M373.66,235.10L373.66,234.00M373.66,7.90L373.66,9.00M384.14,235.10L384.14,234.00M384.14,7.90L384.14,9.00M394.63,235.10L394.63,234.00M394.63,7.90L394.63,9.00M405.11,235.10L405.11,234.00M405.11,7.90L405.11,9.00M415.60,235.10L415.60,233.20M415.60,7.90L415.60,9.80M48.60,235.10L50.50,235.10M415.60,235.10L413.70,235.10M48.60,227.53L49.70,227.53M415.60,227.53L414.50,227.53M48.60,219.95L49.70,219.95M415.60,219.95L414.50,219.95M48.60,212.38L49.70,212.38M415.60,212.38L414.50,212.38M48.60,204.81L49.70,204.81M415.60,204.81L414.50,204.81M48.60,197.23L50.50,197.23M415.60,197.23L413.70,197.23M48.60,189.66L49.70,189.66M415.60,189.66L414.50,189.66M48.60,182.09L49.70,182.09M415.60,182.09L414.50,182.09M48.60,174.51L49.70,174.51M415.60,174.51L414.50,174.51M48.60,166.94L49.70,166.94M415.60,166.94L414.50,166.94M48.60,159.37L50.50,159.37M415.60,159.37L413.70,159.37M48.60,151.79L49.70,151.79M415.60,151.79L414.50,151.79M48.60,144.22L49.70,144.22M415.60,144.22L414.50,144.22M48.60,136.65L49.70,136.65M415.60,136.65L414.50,136.65M48.60,129.07L49.70,129.07M415.60,129.07L414.50,129.07M48.60,121.50L50.50,121.50M415.60,121.50L413.70,121.50M48.60,113.93L49.70,113.93M415.60,113.93L414.50,113.93M48.60,106.35L49.70,106.35M415.60,106.35L414.50,106.35M48.60,98.78L49.70,98.78M415.60,98.78L414.50,98.78M48.60,91.21L49.70,91.21M415.60,91.21L414.50,91.21M48.60,83.63L50.50,83.63M415.60,83.63L413.70,83.63M48.60,76.06L49.70,76.06M415.60,76.06L414.50,76.06M48.60,68.49L49.70,68.49M415.60,68.49L414.50,68.49M48.60,60.91L49.70,60.91M415.60,60.91L414.50,60.91M48.60,53.34L49.70,53.34M415.60,53.34L414.50,53.34M48.60,45.77L50.50,45.77M415.60,45.77L413.70,45.77M48.60,38.19L49.70,38.19M415.60,38.19L414.50,38.19M48.60,30.62L49.70,30.62M415.60,30.62L414.50,30.62M48.60,23.05L49.70,23.05M415.60,23.05L414.50,23.05M48.60,15.47L49.70,15.47M415.60,15.47L414.50,15.47M48.60,7.90L50.50,7.90M415.60,7.90L413.70,7.90" fill="none" stroke="#3a3a3a" stroke-width="0.7"/>
<g fill="none" stroke-width="0.85" stroke-linecap="square"><path d="M48.55,8.0H415.55" stroke="#545454"/><path d="M48.55,8.0V235.45" stroke="#646464"/><path d="M48.55,235.45H415.55" stroke="#525252"/><path d="M415.55,8.0V235.45" stroke="#4c4c4c"/></g>
</svg>
</body></html>
